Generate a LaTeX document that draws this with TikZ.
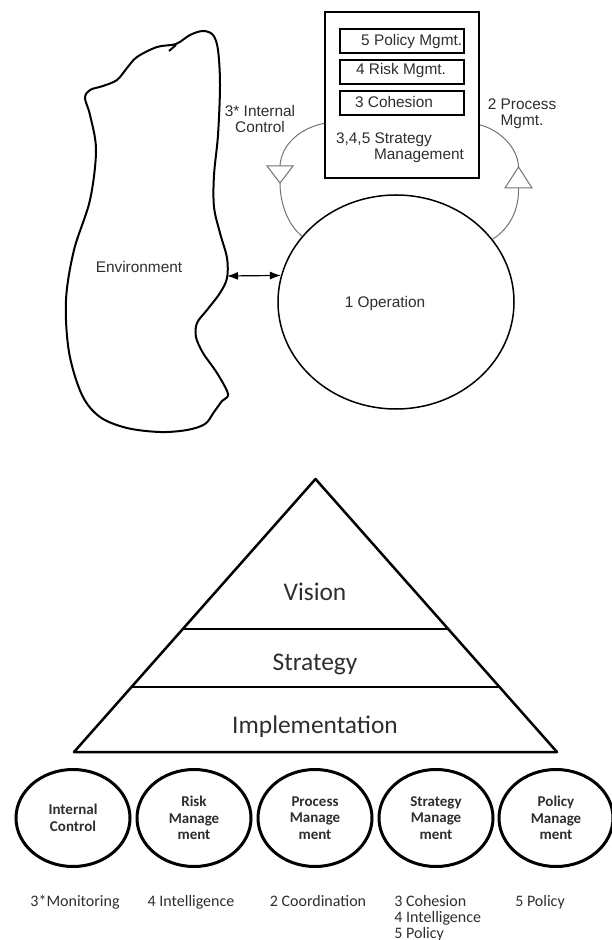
\documentclass[tikz,border=0pt]{standalone}
\usepackage{fontspec}
\setmainfont{Liberation Sans}
\newfontfamily\calfont{Carlito}
\usetikzlibrary{shapes.geometric, arrows.meta}
\definecolor{txt}{rgb}{.18,.18,.18}
\definecolor{arcg}{rgb}{.45,.45,.45}

\begin{document}
\begin{tikzpicture}
  [x=.5pt, y=-.5pt,
   lbl/.style={font=\fontsize{7.7}{8}\selectfont, text=txt, inner sep=0pt, align=center},
   mbox/.style={draw, line width=1.3pt, minimum width=62pt, minimum height=12pt, inner sep=0pt},
   loop/.style={draw=arcg, line width=.5pt},
   tri/.style={draw=arcg, fill=white, line width=.5pt},
   pyr/.style={line width=1.25pt, line join=round},
   lvl/.style={font=\calfont\fontsize{12.7}{15}\selectfont, text=txt, inner sep=0pt},
   circ/.style={draw, ellipse, line width=1.5pt, minimum width=57pt, minimum height=48.5pt,
     inner sep=0pt, align=center, text=txt, font=\calfont\bfseries\fontsize{7.5}{8.25}\selectfont},
   note/.style={font=\calfont\fontsize{8}{8}\selectfont, text=txt, inner sep=0pt}]
  \useasboundingbox (0,0) rectangle (611,940);
  % environment
  \draw[line width=1pt] plot[smooth cycle, tension=.55] coordinates {
    (176,44) (190,35) (203,31) (213,35) (218,50) (220,85) (218,135) (214,175)
    (214,207) (220,233) (227,258) (227,278) (220,293) (207,310) (197,323)
    (196,337) (203,353) (217,373) (228,394) (222,401) (214,412) (205,424)
    (187,430) (160,432) (127,428) (100,417) (82,395) (69,352) (66,300)
    (74,250) (90,200) (96,150) (90,115) (85,98) (90,90) (103,86) (117,80)
    (127,68) (137,57) (157,47)};
  \draw[line width=1pt] (169,51) -- (176,45);
  \node[lbl] (env) at (139,267) {Environment};
  \coordinate (envr) at (227,276);
  % strategy box
  \node[draw, line width=.75pt, minimum width=77pt, minimum height=83pt, inner sep=0pt]
    (sm) at (402,95) {};
  \foreach \num/\y in {5/41,4/72,3/103}{
    \node[mbox] (m\num) at (402,\y) {}; }
  \foreach \num/\x/\y/\t in {5/411.7/41.7/5 Policy Mgmt.,4/401/71/4 Risk Mgmt.,
                             3/394/101.7/3 Cohesion}{
    \node[lbl] (t\num) at (\x,\y) {\t}; }
  \node[lbl] (s1) at (384,140) {3,4,5 Strategy};
  \node[lbl] (s2) at (419,155.5) {Management};
  % operation
  \node[draw, ellipse, line width=.75pt, minimum width=118pt, minimum height=107pt,
    inner sep=0pt] (op) at (396,302) {};
  \node[lbl] (opt) at (385,304) {1 Operation};
  \draw[{Latex[length=5.5pt,width=4pt]}-{Latex[length=5.5pt,width=4pt]}, line width=.6pt]
    (envr) -- (op.167);
  % loops
  \coordinate (icT) at (280,166);
  \coordinate (icB) at (280,183);
  \coordinate (pmT) at (518.5,167);
  \coordinate (pmB) at (518.5,188);
  \draw[loop] (sm.200) .. controls (300,128) and (281,145) .. (icT);
  \draw[loop] (icB) .. controls (280,205) and (289,226) .. (op.145);
  \draw[loop] (sm.339) .. controls (500,130) and (518,148) .. (pmT);
  \draw[loop] (pmB) .. controls (519,210) and (510,228) .. (op.33);
  \draw[tri] (267,166) -- (293,166) -- (icB) -- cycle;
  \draw[tri] (505,188) -- (532,188) -- (pmT) -- cycle;
  \node[lbl] (ic) at (260,119) {3* Internal\\Control};
  \node[lbl] (pm) at (522,114) {2 Process\\Mgmt.};
  % pyramid
  \draw[pyr] (315.5,479) -- (557,752) -- (74,752) -- cycle;
  \draw[pyr] (182.8,629) -- (448.2,629);
  \draw[pyr] (131.5,687) -- (499.5,687);
  \foreach \num/\y/\t in {1/592/Vision,2/664/Strategy,3/727/Implementation}{
    \node[lvl] (p\num) at (315,\y) {\t}; }
  % functions
  \foreach \num/\x/\t in {1/73/Internal\\Control,2/194/Risk\\Manage\\ment,
                          3/315/Process\\Manage\\ment,4/436/Strategy\\Manage\\ment,
                          5/556/Policy\\Manage\\ment}{
    \node[circ] (c\num) at (\x,818) {\t}; }
  \foreach \num/\x/\t in {1/75/3*Monitoring,2/191/4 Intelligence,
                          3/318/2 Coordination,5/540/5 Policy}{
    \node[note, anchor=base] (n\num) at (\x,906) {\t}; }
  \node[note, align=left, anchor=north west] (n4) at (394,895)
    {3 Cohesion\\4 Intelligence\\5 Policy};
\end{tikzpicture}
\end{document}
